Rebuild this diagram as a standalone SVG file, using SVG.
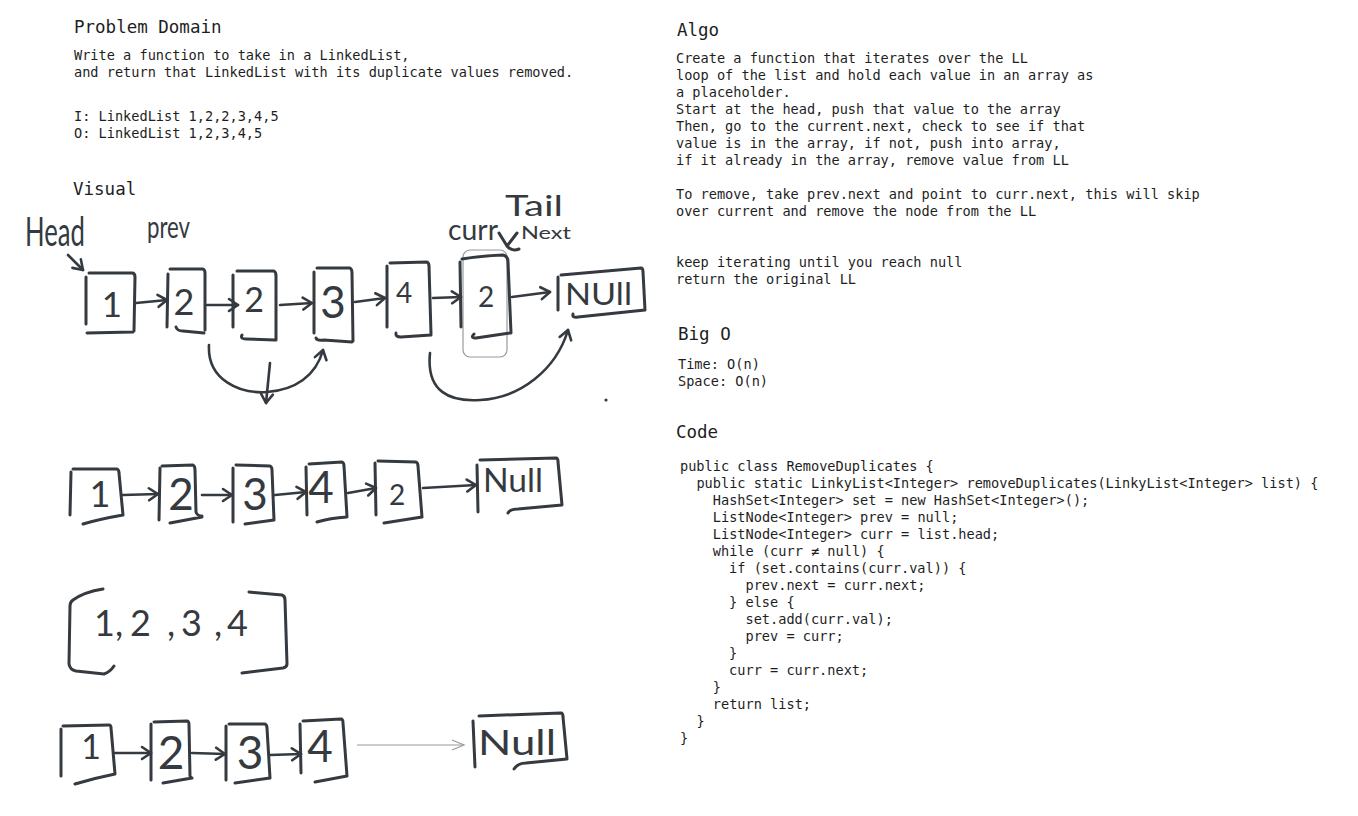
<svg xmlns="http://www.w3.org/2000/svg" width="1358" height="816" viewBox="0 0 1358 816">
<style>
.mono{font-family:"DejaVu Sans Mono","Liberation Mono",monospace;font-size:13.6px;fill:#1e1e1e}
.h{font-family:"DejaVu Sans Mono","Liberation Mono",monospace;font-size:17.5px;fill:#1e1e1e}
.hand{font-family:Lato,"Noto Sans","Liberation Sans",sans-serif;font-weight:400;fill:#343a40}
.dg{text-anchor:middle}
.box{fill:none;stroke:#343a40;stroke-width:3;stroke-linecap:round;stroke-linejoin:round}
.con{fill:none;stroke:#343a40;stroke-width:2.6;stroke-linecap:round;stroke-linejoin:round;marker-end:url(#ah)}
.thin{fill:none;stroke:#9a9a9a;stroke-width:1.2;marker-end:url(#ahThin)}
</style>
<defs>
<marker id="ah" viewBox="-11 -8 13 16" refX="0" refY="0" markerWidth="13" markerHeight="16" markerUnits="userSpaceOnUse" orient="auto">
<path d="M-9,-6 L0,0 L-9,6" fill="none" stroke="#343a40" stroke-width="2.6" stroke-linecap="round" stroke-linejoin="round"/>
</marker>
<marker id="ahThin" viewBox="-14 -7 16 14" refX="0" refY="0" markerWidth="16" markerHeight="14" markerUnits="userSpaceOnUse" orient="auto">
<path d="M-12,-5 L0,0 L-12,5" fill="none" stroke="#9a9a9a" stroke-width="1.2"/>
</marker>
</defs>
<rect width="1358" height="816" fill="#ffffff"/>

<g id="problem-domain">
<text class="h" x="74" y="33">Problem Domain</text>
<text class="mono" x="74" y="60">Write a function to take in a LinkedList,</text>
<text class="mono" x="74" y="77">and return that LinkedList with its duplicate values removed.</text>
<text class="mono" x="74" y="121">I: LinkedList 1,2,2,3,4,5</text>
<text class="mono" x="74" y="138">O: LinkedList 1,2,3,4,5</text>
</g>

<g id="visual-title"><text class="h" x="73" y="195">Visual</text></g>

<g id="algo">
<text class="h" x="677" y="36">Algo</text>
<text class="mono" x="676" y="63">Create a function that iterates over the LL</text>
<text class="mono" x="676" y="80">loop of the list and hold each value in an array as</text>
<text class="mono" x="676" y="97">a placeholder.</text>
<text class="mono" x="676" y="114">Start at the head, push that value to the array</text>
<text class="mono" x="676" y="131">Then, go to the current.next, check to see if that</text>
<text class="mono" x="676" y="148">value is in the array, if not, push into array,</text>
<text class="mono" x="676" y="165">if it already in the array, remove value from LL</text>
<text class="mono" x="676" y="199">To remove, take prev.next and point to curr.next, this will skip</text>
<text class="mono" x="676" y="216">over current and remove the node from the LL</text>
<text class="mono" x="676" y="267">keep iterating until you reach null</text>
<text class="mono" x="676" y="284">return the original LL</text>
</g>

<g id="big-o">
<text class="h" x="678" y="340">Big O</text>
<text class="mono" x="678" y="369">Time: O(n)</text>
<text class="mono" x="678" y="386">Space: O(n)</text>
</g>

<g id="code">
<text class="h" x="676" y="438">Code</text>
<text class="mono" x="680" y="471">public class RemoveDuplicates {</text>
<text class="mono" x="696.4" y="488">public static LinkyList&lt;Integer&gt; removeDuplicates(LinkyList&lt;Integer&gt; list) {</text>
<text class="mono" x="712.8" y="505">HashSet&lt;Integer&gt; set = new HashSet&lt;Integer&gt;();</text>
<text class="mono" x="712.8" y="522">ListNode&lt;Integer&gt; prev = null;</text>
<text class="mono" x="712.8" y="539">ListNode&lt;Integer&gt; curr = list.head;</text>
<text class="mono" x="712.8" y="556">while (curr ≠ null) {</text>
<text class="mono" x="729.1" y="573">if (set.contains(curr.val)) {</text>
<text class="mono" x="745.5" y="590">prev.next = curr.next;</text>
<text class="mono" x="729.1" y="607">} else {</text>
<text class="mono" x="745.5" y="624">set.add(curr.val);</text>
<text class="mono" x="745.5" y="641">prev = curr;</text>
<text class="mono" x="729.1" y="658">}</text>
<text class="mono" x="729.1" y="675">curr = curr.next;</text>
<text class="mono" x="712.8" y="692">}</text>
<text class="mono" x="712.8" y="709">return list;</text>
<text class="mono" x="696.4" y="726">}</text>
<text class="mono" x="680" y="743">}</text>
</g>

<!-- Row 1 -->
<g id="label-head"><text class="hand" x="25" y="246" font-size="40" textLength="60" lengthAdjust="spacingAndGlyphs">Head</text></g>
<g id="label-prev"><text class="hand" x="147" y="238" font-size="30" textLength="43" lengthAdjust="spacingAndGlyphs">prev</text></g>
<g id="label-curr"><text class="hand" x="448" y="240" font-size="28" textLength="50" lengthAdjust="spacingAndGlyphs">curr</text></g>
<g id="label-tail"><text class="hand" x="505" y="216" font-size="28" textLength="58" lengthAdjust="spacingAndGlyphs">Tail</text></g>
<g id="label-next"><text class="hand" x="521" y="239" font-size="18" textLength="50" lengthAdjust="spacingAndGlyphs">Next</text></g>

<g id="r1-n1"><path class="box" d="M86,277 L86,324 M89,273 L132,273 Q135,273 135,277 L134,331 M87,333 L133,332"/><text class="hand dg" x="112" y="317" font-size="35">1</text></g>
<g id="r1-n2"><path class="box" d="M168,274 L167,327 M170,269 L203,269 Q205,270 205,273 L205,330 M176,327 Q177,331 183,331 L204,333"/><text class="hand dg" x="184" y="315" font-size="36">2</text></g>
<g id="r1-n3"><path class="box" d="M233,275 L233,327 M237,271 L274,271 Q276,272 276,276 L276,340 M242,335 Q240,339 246,339 L275,340"/><text class="hand dg" x="254" y="312" font-size="34">2</text></g>
<g id="r1-n4"><path class="box" d="M314,272 L314,333 M317,268 L350,268 Q352,269 352,273 L353,341 M316,338 Q317,341 324,340 L352,342"/><text class="hand dg" x="333" y="318" font-size="44">3</text></g>
<g id="r1-n5"><path class="box" d="M387,266 L387,327 M390,263 L427,262 Q429,263 429,266 L431,334 M396,333 Q395,337 401,337 L431,335"/><text class="hand dg" x="404" y="303" font-size="28">4</text></g>
<g id="r1-n6"><rect x="463" y="250" width="44" height="107" rx="7" fill="none" stroke="#9a9a9a" stroke-width="1.2"/><path class="box" d="M460,262 L461,327 M462,259 Q480,256 503,255 Q508,256 508,262 L511,333 M474,334 Q470,338 476,338 L510,333"/><text class="hand dg" x="486" y="307" font-size="28">2</text></g>
<g id="r1-null"><path class="box" d="M558,277 L558,310 M561,275 L641,268 Q643,268 643,272 L645,310 M573,314 Q572,318 578,317 L645,310"/><text class="hand" x="565" y="305" font-size="31" textLength="67" lengthAdjust="spacingAndGlyphs">NUll</text></g>

<!-- Row 2 -->
<g id="r2-n1"><path class="box" d="M71,472 L70,515 M73,469 L117,469 Q119,470 119,473 L123,515 M83,524 Q100,519 123,515"/><text class="hand dg" x="100" y="507" font-size="36">1</text></g>
<g id="r2-n2"><path class="box" d="M160,468 L159,520 M162,466 L193,465 Q195,466 195,470 L196,512 Q197,516 202,516 M170,523 L202,517"/><text class="hand dg" x="181" y="510" font-size="44">2</text></g>
<g id="r2-n3"><path class="box" d="M233,468 L233,522 M236,465 L270,466 Q272,467 272,470 L274,520 M245,524 L274,520"/><text class="hand dg" x="255" y="510" font-size="44">3</text></g>
<g id="r2-n4"><path class="box" d="M306,467 L307,515 M309,464 L342,462 Q344,463 344,466 L347,517 M317,522 Q330,518 347,517"/><text class="hand dg" x="321" y="503" font-size="44">4</text></g>
<g id="r2-n5"><path class="box" d="M375,463 L376,515 M378,461 L416,462 Q418,463 418,466 L422,517 M384,523 L422,517"/><text class="hand dg" x="397" y="505" font-size="28">2</text></g>
<g id="r2-null"><path class="box" d="M477,465 L478,512 M480,460 L556,458 Q558,458 558,462 L562,505 M508,513 Q510,509 518,509 L562,505"/><text class="hand" x="483" y="492" font-size="32" textLength="60" lengthAdjust="spacingAndGlyphs">Null</text></g>

<!-- Array -->
<g id="array">
<path class="box" d="M103,589 Q84,592 73,600 Q70,602 70,606 L69,664 Q70,670 76,671 L104,674 Q110,672 114,666"/>
<path class="box" d="M249,592 L282,595 Q285,596 285,600 L287,664 Q287,667 283,668 L242,673"/>
<text class="hand" x="94 115 130 167 181 214 227" y="636" font-size="36">1,2,3,4</text>
</g>

<!-- Row 4 -->
<g id="r4-n1"><path class="box" d="M61,729 L61,776 M63,726 L109,725 Q111,725 111,728 L115,774 M75,784 Q95,778 115,774"/><text class="hand dg" x="91" y="759" font-size="34">1</text></g>
<g id="r4-n2"><path class="box" d="M151,724 L151,780 M154,722 L187,721 Q189,721 189,725 L190,776 Q191,778 192,778 M163,783 L192,778"/><text class="hand dg" x="171" y="769" font-size="46">2</text></g>
<g id="r4-n3"><path class="box" d="M226,726 L226,780 M229,724 L265,724 Q267,725 267,728 L270,778 M235,783 L270,778"/><text class="hand dg" x="250" y="769" font-size="46">3</text></g>
<g id="r4-n4"><path class="box" d="M300,724 L301,773 M303,721 L341,719 Q343,719 343,723 L347,776 M315,782 L347,776"/><text class="hand dg" x="320" y="762" font-size="44">4</text></g>
<g id="r4-null"><path class="box" d="M473,721 L475,767 M479,716 L561,713 Q563,713 563,717 L567,759 M514,769 Q518,763 526,763 L567,759"/><text class="hand" x="478" y="755" font-size="34" textLength="78" lengthAdjust="spacingAndGlyphs">Null</text></g>

<g id="connectors">
<path class="con" d="M68,255 L83,270"/>
<path class="con" d="M136,303 L167,300"/>
<path class="con" d="M207,305 L238,305"/>
<path class="con" d="M280,305 L312,303"/>
<path class="con" d="M355,302 L385,298"/>
<path class="con" d="M433,298 L461,297"/>
<path class="con" d="M512,297 L550,292"/>
<path class="con" d="M209,345 C207,380 240,394 267,392 C295,390 316,376 323,350"/>
<path class="con" d="M270,363 L266,403"/>
<path class="con" d="M430,353 C426,392 450,402 480,400 C520,398 556,370 568,330"/>
<path class="box" d="M499,233 L507,246 L517,233 M507,246 Q512,252 519,249"/>
<circle cx="606" cy="400" r="1.6" fill="#343a40"/>
<path class="con" d="M123,495 L158,494"/>
<path class="con" d="M202,495 L232,495"/>
<path class="con" d="M275,495 L306,492"/>
<path class="con" d="M348,493 L376,488"/>
<path class="con" d="M423,488 L476,485"/>
<path class="con" d="M115,753 L151,753"/>
<path class="con" d="M192,753 L225,754"/>
<path class="con" d="M270,755 L301,754"/>
<path class="thin" d="M357,745 L464,745"/>
</g>
</svg>
